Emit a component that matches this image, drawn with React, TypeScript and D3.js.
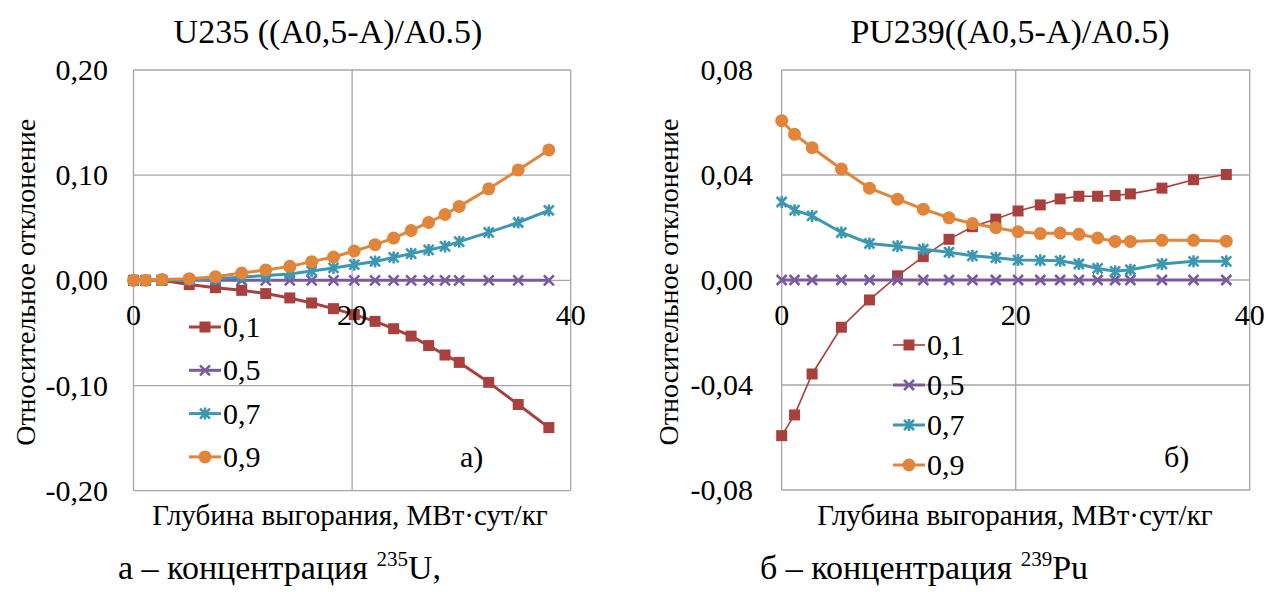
import React from 'react';
import * as d3 from 'd3';

// burnup points, MW·day/kg (same grid for both panels)
const burnup = [0, 1.1, 2.6, 5.1, 7.5, 9.9, 12.1, 14.3, 16.3, 18.3, 20.2, 22.1, 23.8, 25.4, 27.0, 28.5, 29.8, 32.5, 35.2, 38.0];

const seriesNames = ['0,1', '0,5', '0,7', '0,9'];

// U235
const u235_01 = [0, 0, 0, -0.004, -0.007, -0.0095, -0.0126, -0.0167, -0.0215, -0.0269, -0.0326, -0.039, -0.046, -0.053, -0.062, -0.071, -0.078, -0.097, -0.118, -0.14];
const u235_05 = [0, 0, 0, 0, 0, 0, 0, 0, 0, 0, 0, 0, 0, 0, 0, 0, 0, 0, 0, 0];
const u235_07 = [0, 0, 0, 0.0004, 0.0013, 0.0032, 0.0045, 0.0061, 0.0089, 0.0118, 0.0149, 0.018, 0.0218, 0.0254, 0.0289, 0.0323, 0.0368, 0.0456, 0.055, 0.0665];
const u235_09 = [0, 0, 0.0007, 0.0016, 0.0035, 0.007, 0.0099, 0.0133, 0.0178, 0.0222, 0.0279, 0.0339, 0.0402, 0.0474, 0.055, 0.0626, 0.0703, 0.087, 0.105, 0.124];

// PU239
const pu239_01 = [-0.0593, -0.0514, -0.0358, -0.018, -0.0076, 0.0016, 0.0089, 0.0155, 0.0203, 0.0232, 0.0263, 0.0286, 0.0309, 0.0319, 0.0319, 0.0322, 0.0328, 0.035, 0.0382, 0.0402];
const pu239_05 = [0, 0, 0, 0, 0, 0, 0, 0, 0, 0, 0, 0, 0, 0, 0, 0, 0, 0, 0, 0];
const pu239_07 = [0.0297, 0.0266, 0.0244, 0.0181, 0.0139, 0.0129, 0.0117, 0.0106, 0.0092, 0.0085, 0.0076, 0.0075, 0.0073, 0.0061, 0.0044, 0.0033, 0.0039, 0.0061, 0.0071, 0.0071];
const pu239_09 = [0.0607, 0.0555, 0.0504, 0.0423, 0.035, 0.0308, 0.027, 0.0237, 0.0215, 0.0199, 0.0184, 0.0177, 0.0179, 0.0174, 0.016, 0.0147, 0.0147, 0.0151, 0.0151, 0.0148];

const xTicks = [0, 20, 40];
const u235Ticks = [-0.2, -0.1, 0, 0.1, 0.2];
const pu239Ticks = [-0.08, -0.04, 0, 0.04, 0.08];

const colors = ['#a8413e', '#7a5b9c', '#3b98b0', '#e0853a'];
const markers = ['square', 'x', 'star', 'circle'];
const GRID = '#a6a6a6';
const FAM = 'Liberation Serif';

const Marker = ({ type, cx, cy, color }) => {
  if (type === 'square') return <rect x={cx - 5.5} y={cy - 5.5} width={11} height={11} fill={color} />;
  if (type === 'circle') return <circle cx={cx} cy={cy} r={6.5} fill={color} />;
  const s = 5;
  let d = `M${cx - s},${cy - s}L${cx + s},${cy + s}M${cx - s},${cy + s}L${cx + s},${cy - s}`;
  if (type === 'star') d += `M${cx},${cy - s - 1}L${cx},${cy + s + 1}`;
  return <path d={d} stroke={color} strokeWidth={2.6} fill="none" />;
};

const fmt = (d) => d3.format('.2f')(d).replace('.', ',').replace('\u2212', '-');

const T = ({ size, children, ...rest }) => (
  <text fontFamily={FAM} fontSize={size} style={{ fontFamily: `"${FAM}"`, fontSize: size }} {...rest}>{children}</text>
);

const Panel = ({ o }) => {
  const x = d3.scaleLinear().domain([0, 40]).range([o.left, o.right]);
  const y = d3.scaleLinear().domain(o.domain).range([o.bottom, o.top]);
  const line = d3.line().x((d) => x(d[0])).y((d) => y(d[1]));
  const midY = (o.top + o.bottom) / 2;

  return (
    <g>
      {o.ticks.map((t) => (
        <line key={'h' + t} x1={o.left} x2={o.right} y1={y(t)} y2={y(t)} stroke={GRID} strokeWidth={1.3} />
      ))}
      {xTicks.map((t) => (
        <line key={'v' + t} x1={x(t)} x2={x(t)} y1={o.top} y2={o.bottom} stroke={GRID} strokeWidth={1.3} />
      ))}

      {o.ticks.map((t) => (
        <T key={'yl' + t} size={30} x={o.tickX} y={y(t) + 10} textAnchor="end">{fmt(t)}</T>
      ))}

      <T size={28} transform={`translate(${o.yTitleX},${midY + 2}) rotate(-90)`} textAnchor="middle" y={10}>
        Относительное отклонение
      </T>

      <T size={29} x={o.xTitleX} y={525} textAnchor="middle">Глубина выгорания, МВт·сут/кг</T>

      <T size={34} x={o.titleX} y={43} textAnchor="middle">{o.title}</T>

      {o.series.map((vals, i) => {
        const pts = burnup.map((b, j) => [b, vals[j]]);
        return (
          <g key={'s' + i}>
            <path d={line(pts)} fill="none" stroke={colors[i]} strokeWidth={o.widths[i]} />
            {pts.map((p, j) => <Marker key={j} type={markers[i]} cx={x(p[0])} cy={y(p[1])} color={colors[i]} />)}
          </g>
        );
      })}

      {xTicks.map((t) => (
        <T key={'xl' + t} size={30} x={x(t)} y={y(0) + 45} textAnchor="middle">{String(t)}</T>
      ))}

      {seriesNames.map((name, i) => {
        const ly = o.legendY + i * o.legendStep;
        return (
          <g key={'lg' + i}>
            <line x1={o.legendX} x2={o.legendX + 32} y1={ly} y2={ly} stroke={colors[i]} strokeWidth={o.widths[i]} />
            <Marker type={markers[i]} cx={o.legendX + 16} cy={ly} color={colors[i]} />
            <T size={30} x={o.legendX + 34} y={ly + 10}>{name}</T>
          </g>
        );
      })}

      <T size={30} x={o.tag[0]} y={o.tag[1] + 10}>{o.tag[2]}</T>

      <T size={34} x={o.capX} y={579}>
        <tspan>{o.capHead}</tspan>
        <tspan dy={-13} fontSize={21} style={{ fontSize: 21 }}>{o.capSup}</tspan>
        <tspan dy={13}>{o.capTail}</tspan>
      </T>
    </g>
  );
};

const leftOpts = {
  left: 133.5, right: 570.7, top: 70, bottom: 490.7,
  domain: [-0.2, 0.2], ticks: u235Ticks,
  series: [u235_01, u235_05, u235_07, u235_09],
  widths: [3, 3, 3, 3],
  tickX: 108, yTitleX: 25, xTitleX: 350, titleX: 328,
  title: 'U235 ((A0,5-A)/A0.5)',
  capX: 118, capHead: 'а – концентрация ', capSup: '235', capTail: 'U,',
  tag: [460, 457, 'а)'],
  legendX: 189, legendY: 327, legendStep: 43.3,
};

const rightOpts = {
  left: 781.7, right: 1249.7, top: 70, bottom: 490,
  domain: [-0.08, 0.08], ticks: pu239Ticks,
  series: [pu239_01, pu239_05, pu239_07, pu239_09],
  widths: [1.6, 3, 3, 3],
  tickX: 753, yTitleX: 668, xTitleX: 1015, titleX: 1010,
  title: 'PU239((A0,5-A)/A0.5)',
  capX: 760, capHead: 'б – концентрация ', capSup: '239', capTail: 'Pu',
  tag: [1164, 457, 'б)'],
  legendX: 893, legendY: 345, legendStep: 40,
};

const App = () => (
  <svg width={1269} height={592} style={{ position: 'absolute', left: 0, top: 0 }}>
    <style>{`text, tspan { font-family: "Liberation Serif", "Times New Roman", Tinos, serif; }`}</style>
    <Panel o={leftOpts} />
    <Panel o={rightOpts} />
  </svg>
);

export default App;
